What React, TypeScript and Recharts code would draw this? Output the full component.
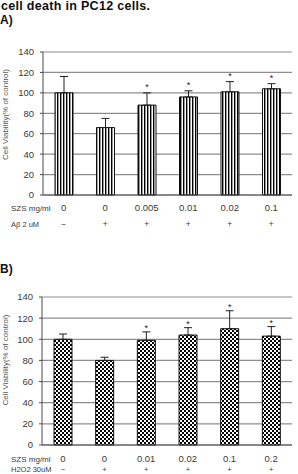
import React from "react";
import {
  BarChart,
  Bar,
  XAxis,
  YAxis,
  CartesianGrid,
  ErrorBar,
  LabelList,
} from "recharts";

// panel A: Abeta-induced
const szsA = ["0", "0", "0.005", "0.01", "0.02", "0.1"];
const abeta = ["\u2212", "+", "+", "+", "+", "+"];
const viabA = [100, 66, 88, 96, 101, 104];
const errA = [16, 9, 12, 6, 10, 5];
const starA = [false, false, true, true, true, true];

// panel B: H2O2-induced
const szsB = ["0", "0", "0.01", "0.02", "0.1", "0.2"];
const h2o2 = ["\u2212", "+", "+", "+", "+", "+"];
const viabB = [100, 80, 99, 104, 110, 103];
const errB = [5, 3, 8, 7, 17, 9];
const starB = [false, false, true, true, true, true];

const yTicks = [0, 20, 40, 60, 80, 100, 120, 140];

const FONT = "'Liberation Sans', Arial, sans-serif";
const TXT = "#3a3a3a";
const GRID = "#8e8e8e";
const AXIS = "#4a4a4a";

const makeRows = (names: string[], vals: number[], errs: number[]) =>
  names.map((name, i) => ({ name, v: vals[i], err: [0, errs[i]] }));

const dataA = makeRows(szsA, viabA, errA);
const dataB = makeRows(szsB, viabB, errB);

// star sits just above the error bar cap
const starLabel =
  (errs: number[], stars: boolean[], gap: number) => (props: any) => {
    const { x, y, width, height, value, index } = props;
    if (!stars[index]) return null;
    const pxPerUnit = height / value;
    const ty = y - errs[index] * pxPerUnit - gap;
    return (
      <text
        x={x + width / 2}
        y={ty}
        textAnchor="middle"
        fontSize={9}
        fontFamily={FONT}
        fill="#222"
      >
        *
      </text>
    );
  };

const catTick =
  (
    signs: string[],
    rowHead: [string, string],
    dy1: number,
    dy2: number,
    signSize: number
  ) =>
  (props: any) => {
    const { x, y, payload, index } = props;
    const i = index ?? payload.index;
    return (
      <g fontFamily={FONT} fill={TXT}>
        {i === 0 && (
          <>
            <text x={11} y={y + dy1} fontSize={8} fill={TXT}>
              {rowHead[0]}
            </text>
            <text x={11} y={y + dy2} fontSize={7.5} fill={TXT}>
              {rowHead[1]}
            </text>
          </>
        )}
        <text x={x} y={y + dy1} textAnchor="middle" fontSize={9.5} fill={TXT}>
          {payload.value}
        </text>
        <text x={x} y={y + dy2} textAnchor="middle" fontSize={signSize} fill={TXT}>
          {signs[i]}
        </text>
      </g>
    );
  };

const yLabel = (dyCenter: number) => (props: any) => {
  const vb = props.viewBox;
  const cx = 5;
  const cy = vb.y + vb.height / 2 + dyCenter;
  return (
    <text
      x={cx}
      y={cy}
      transform={`rotate(-90 ${cx} ${cy})`}
      textAnchor="middle"
      dominantBaseline="central"
      fontSize={8}
      fontFamily={FONT}
      fill="#555"
    >
      Cell Viability(% of control)
    </text>
  );
};

function Panel(props: {
  data: any[];
  errs: number[];
  stars: boolean[];
  signs: string[];
  rowHead: [string, string];
  height: number;
  top: number;
  yWidth: number;
  labelH: number;
  dy1: number;
  dy2: number;
  signSize: number;
  starGap: number;
  labelShift: number;
  fill: string;
}) {
  return (
    <BarChart
      width={298}
      height={props.height}
      data={props.data}
      margin={{ top: props.top, right: 6, bottom: 0, left: 0 }}
      barCategoryGap={0}
    >
      <CartesianGrid vertical={false} stroke={GRID} strokeWidth={1.2} />
      <XAxis
        xAxisId="t"
        type="number"
        domain={[0, 6]}
        ticks={[1, 2, 3, 4, 5]}
        height={0}
        mirror
        tickSize={3}
        tick={false}
        axisLine={false}
        tickLine={{ stroke: AXIS }}
      />
      <XAxis
        dataKey="name"
        height={props.labelH}
        tickLine={false}
        tickSize={0}
        tickMargin={0}
        interval={0}
        axisLine={{ stroke: AXIS }}
        tick={catTick(props.signs, props.rowHead, props.dy1, props.dy2, props.signSize)}
      />
      <YAxis
        width={props.yWidth}
        domain={[0, 140]}
        ticks={yTicks}
        interval={0}
        tickSize={3}
        tickMargin={6}
        axisLine={{ stroke: AXIS }}
        tickLine={{ stroke: AXIS }}
        tick={{ fontSize: 9.5, fill: TXT, fontFamily: FONT }}
        label={yLabel(props.labelShift)}
      />
      <YAxis
        yAxisId="r"
        orientation="right"
        width={0}
        domain={[0, 140]}
        tick={false}
        tickLine={false}
        axisLine={{ stroke: GRID, strokeWidth: 1.2 }}
      />
      <Bar
        dataKey="v"
        barSize={18}
        fill={props.fill}
        stroke="#111"
        strokeWidth={1}
        isAnimationActive={false}
      >
        <ErrorBar
          dataKey="err"
          direction="y"
          width={4}
          stroke="#222"
          strokeWidth={1}
          isAnimationActive={false}
        />
        <LabelList
          dataKey="v"
          content={starLabel(props.errs, props.stars, props.starGap)}
        />
      </Bar>
    </BarChart>
  );
}

const headStyle: React.CSSProperties = {
  position: "absolute",
  left: 0,
  fontSize: 12,
  fontWeight: "bold",
  lineHeight: "12px",
  color: "#111",
};

export default function App() {
  return (
    <div
      style={{
        position: "absolute",
        top: 0,
        left: 0,
        width: 298,
        height: 474,
        overflow: "hidden",
        background: "#fff",
        fontFamily: FONT,
      }}
    >
      <svg width={0} height={0} style={{ position: "absolute" }}>
        <defs>
          <pattern id="stripes" patternUnits="userSpaceOnUse" width={3} height={4}>
            <rect x={0} y={0} width={3} height={4} fill="#fff" />
            <rect x={0} y={0} width={1.4} height={4} fill="#000" />
          </pattern>
          <pattern id="checks" patternUnits="userSpaceOnUse" width={4} height={4}>
            <rect x={0} y={0} width={4} height={4} fill="#fff" />
            <rect x={0} y={0} width={2} height={2} fill="#000" />
            <rect x={2} y={2} width={2} height={2} fill="#000" />
          </pattern>
        </defs>
      </svg>

      <div
        style={{
          position: "absolute",
          top: 0,
          left: 1,
          fontSize: 12.5,
          fontWeight: "bold",
          lineHeight: "12px",
          letterSpacing: 0.3,
          whiteSpace: "nowrap",
          color: "#111",
        }}
      >
        cell death in PC12 cells.
      </div>
      <div style={{ ...headStyle, top: 14 }}>A)</div>
      <div style={{ ...headStyle, top: 263 }}>B)</div>

      <div style={{ position: "absolute", top: 0, left: 0 }}>
        <Panel
          data={dataA}
          errs={errA}
          stars={starA}
          signs={abeta}
          rowHead={["SZS mg/ml", "A\u03b2  2 uM"]}
          height={236}
          top={52}
          yWidth={43}
          labelH={41}
          dy1={16}
          dy2={32}
          signSize={8.5}
          starGap={2.5}
          labelShift={-9}
          fill="url(#stripes)"
        />
      </div>

      <div style={{ position: "absolute", top: 250, left: 0 }}>
        <Panel
          data={dataB}
          errs={errB}
          stars={starB}
          signs={h2o2}
          rowHead={["SZS mg/ml", "H2O2 30uM"]}
          height={224}
          top={47}
          yWidth={42}
          labelH={29}
          dy1={17}
          dy2={27}
          signSize={7.5}
          starGap={1}
          labelShift={-11}
          fill="url(#checks)"
        />
      </div>
    </div>
  );
}
